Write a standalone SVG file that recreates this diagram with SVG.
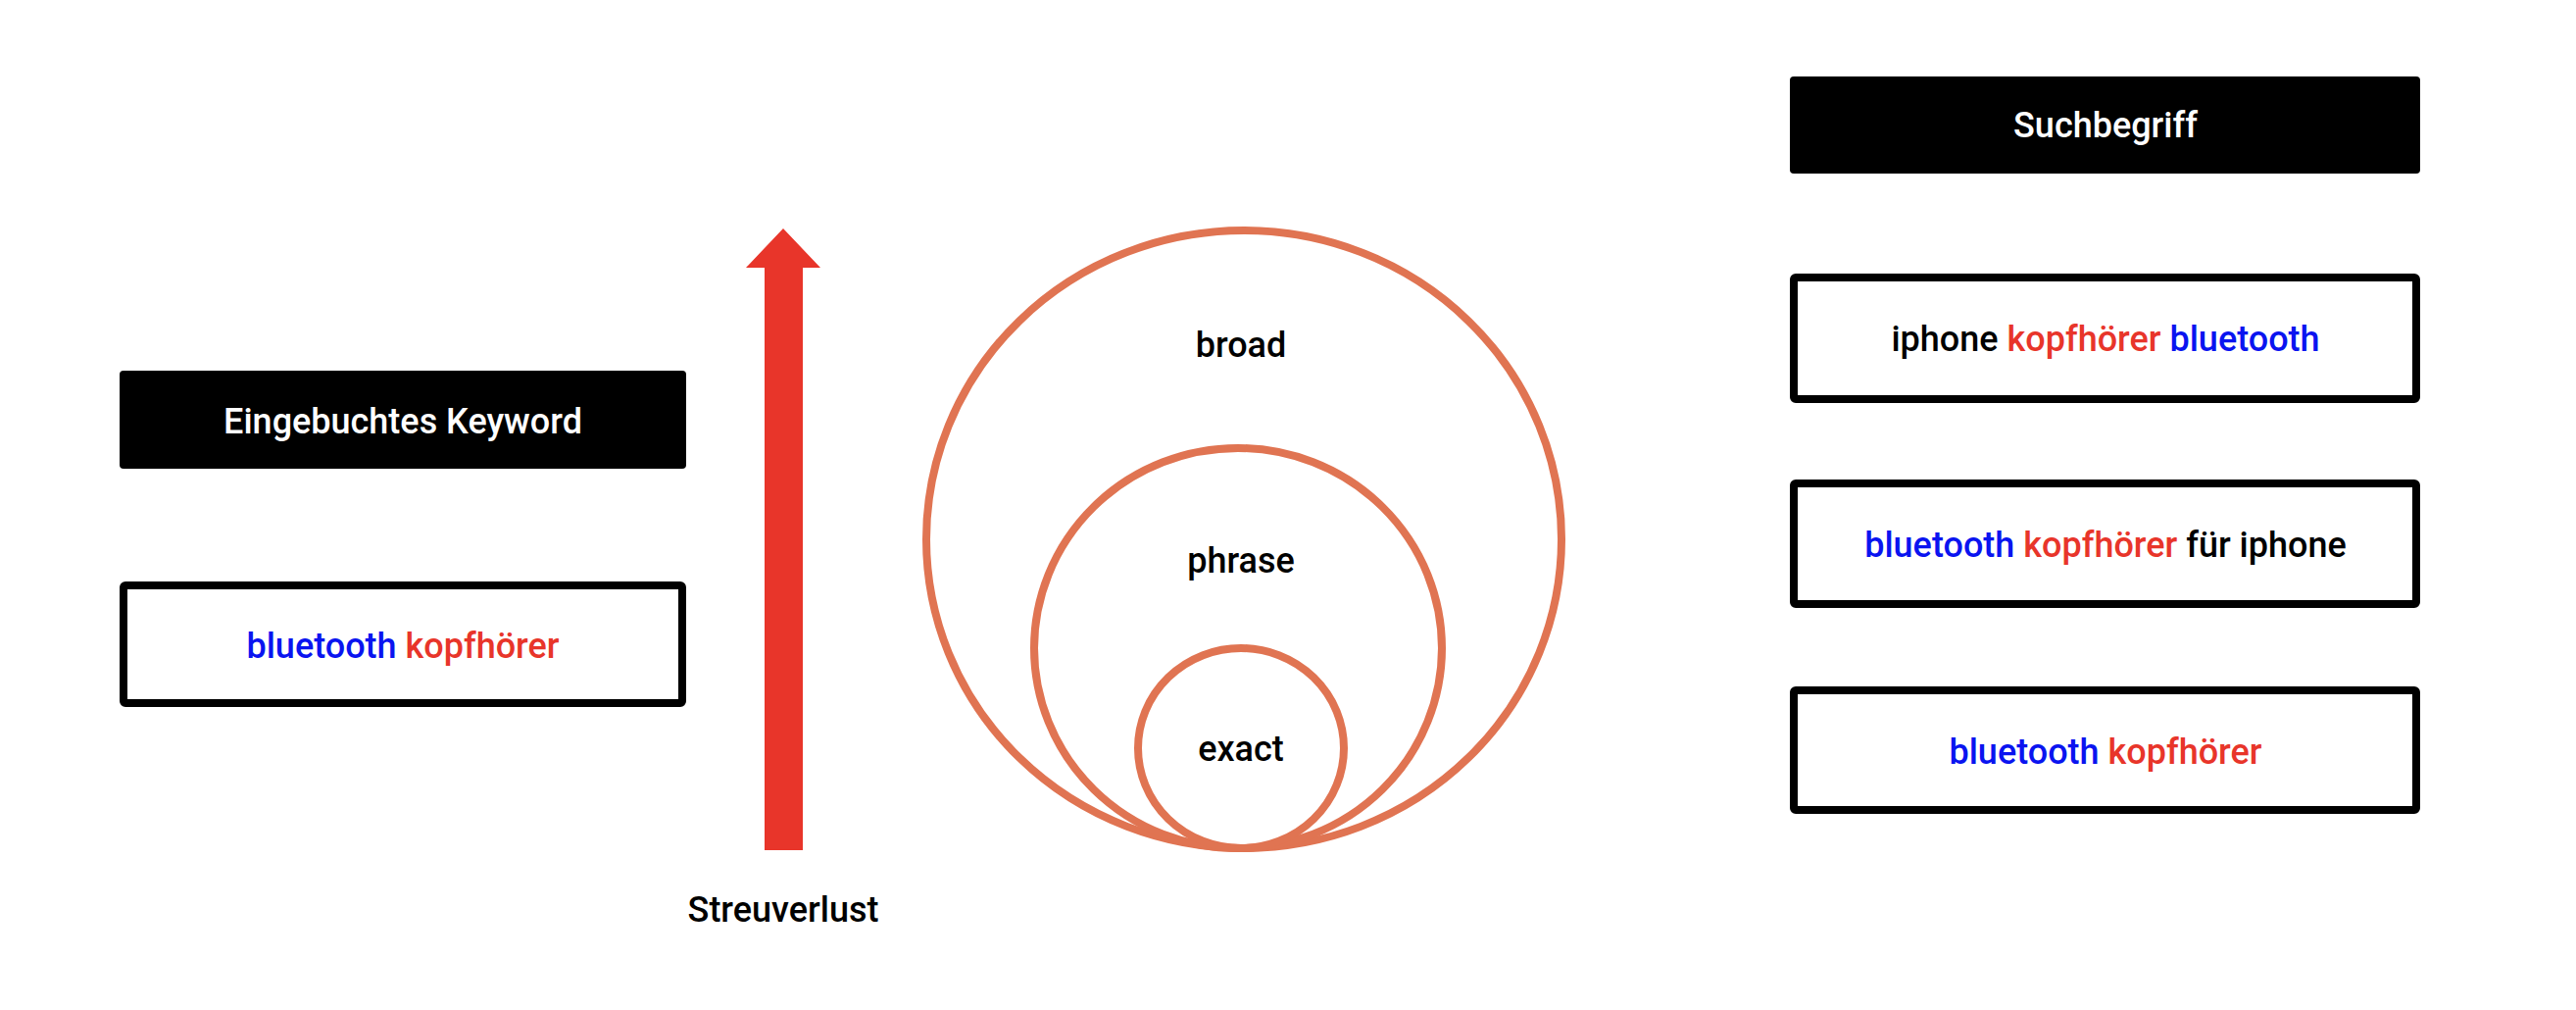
<svg xmlns="http://www.w3.org/2000/svg" width="2628" height="1030" viewBox="0 0 2628 1030">
<style>
text{font-family:Roboto,"Liberation Sans",sans-serif;font-size:36px;font-weight:500;text-anchor:middle;dominant-baseline:central}
.hdr{fill:#000}
.hdrt{fill:#fff}
.box{fill:#fff;stroke:#000;stroke-width:8}
.c{fill:none;stroke:#E07452;stroke-width:8}
.b{fill:#0A14F0}.r{fill:#E8352A}.k{fill:#000}
</style>
<rect width="2628" height="1030" fill="#fff"/>
<g id="left-header"><rect class="hdr" x="122" y="378" width="578" height="100" rx="4"/><text class="hdrt" x="411" y="430" fill="#fff">Eingebuchtes Keyword</text></g>
<g id="left-keyword"><rect class="box" x="126" y="597" width="570" height="120" rx="2"/><text x="411" y="659"><tspan class="b">bluetooth</tspan> <tspan class="r">kopfhörer</tspan></text></g>
<g id="arrow"><polygon fill="#E8352A" points="780,867 819,867 819,273 837,273 799,233 761,273 780,273"/></g>
<g id="streuverlust"><text class="k" x="799" y="928">Streuverlust</text></g>
<g id="circles">
<ellipse class="c" cx="1269" cy="550" rx="324" ry="315"/>
<ellipse class="c" cx="1263" cy="661" rx="208" ry="204"/>
<ellipse class="c" cx="1266" cy="763" rx="105" ry="102"/>
<text class="k" x="1266" y="352">broad</text>
<text class="k" x="1266" y="572">phrase</text>
<text class="k" x="1266" y="764">exact</text>
</g>
<g id="right-header"><rect class="hdr" x="1826" y="78" width="643" height="99" rx="4"/><text class="hdrt" x="2148" y="128" fill="#fff">Suchbegriff</text></g>
<g id="search1"><rect class="box" x="1830" y="283" width="635" height="124" rx="2"/><text x="2148" y="346"><tspan class="k">iphone</tspan> <tspan class="r">kopfhörer</tspan> <tspan class="b">bluetooth</tspan></text></g>
<g id="search2"><rect class="box" x="1830" y="493" width="635" height="123" rx="2"/><text x="2148" y="556"><tspan class="b">bluetooth</tspan> <tspan class="r">kopfhörer</tspan> <tspan class="k">für iphone</tspan></text></g>
<g id="search3"><rect class="box" x="1830" y="704" width="635" height="122" rx="2"/><text x="2148" y="767"><tspan class="b">bluetooth</tspan> <tspan class="r">kopfhörer</tspan></text></g>
<g id="connectors"/>
</svg>
